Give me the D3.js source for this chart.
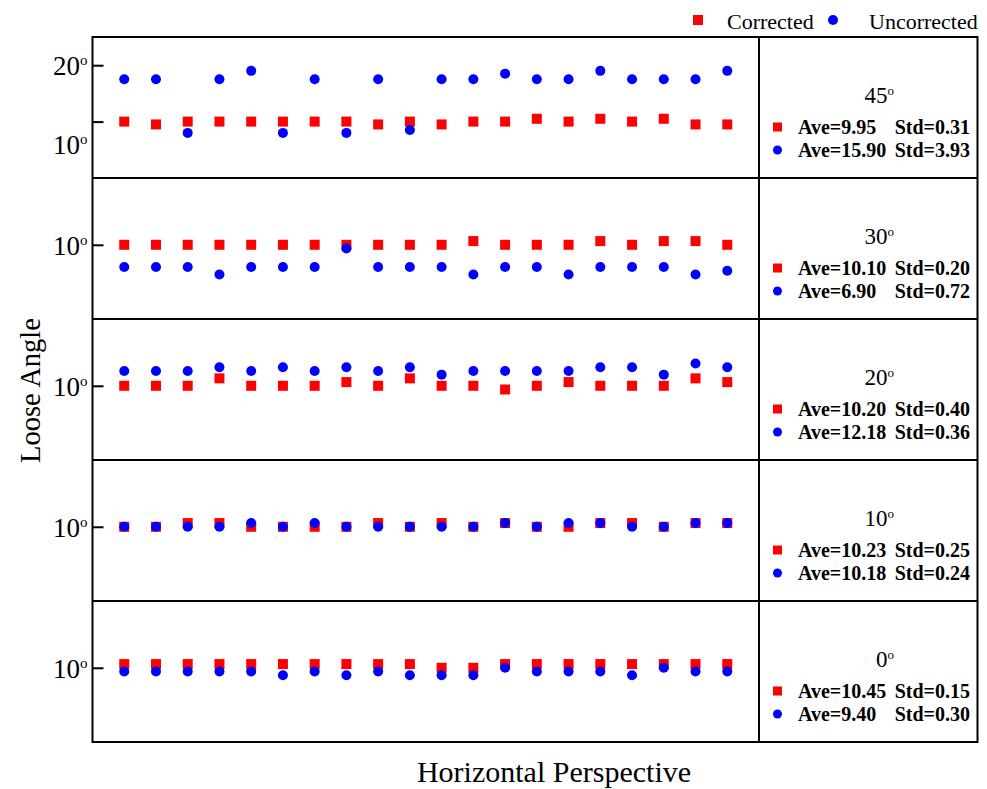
<!DOCTYPE html>
<html>
<head>
<meta charset="utf-8">
<script src="https://cdn.jsdelivr.net/npm/d3@7"></script>
<style>
  body { margin: 0; background: #fff; }
  text { font-family: "Liberation Serif", "Times New Roman", serif; fill: #000; }
</style>
</head>
<body>
<div id="chart"></div>
<script>
/* Loose angle vs horizontal perspective, corrected / uncorrected */

const angles = ["45", "30", "20", "10", "0"];

const corr45 = [10,9.5,10,10,10,10,10,10,9.5,10,9.5,10,10,10.5,10,10.5,10,10.5,9.5,9.5];
const unc45  = [17.5,17.5,8,17.5,19,8,17.5,8,17.5,8.5,17.5,17.5,18.5,17.5,17.5,19,17.5,17.5,17.5,19];
const corr30 = [10,10,10,10,10,10,10,10,10,10,10,10.5,10,10,10,10.5,10,10.5,10.5,10];
const unc30  = [7,7,7,6,7,7,7,9.5,7,7,7,6,7,7,6,7,7,7,6,6.5];
const corr20 = [10,10,10,11,10,10,10,10.5,10,11,10,10,9.5,10,10.5,10,10,10,11,10.5];
const unc20  = [12,12,12,12.5,12,12.5,12,12.5,12,12.5,11.5,12,12,12,12,12.5,12.5,11.5,13,12.5];
const corr10 = [10,10,10.5,10.5,10,10,10,10,10.5,10,10.5,10,10.5,10,10,10.5,10.5,10,10.5,10.5];
const unc10  = [10,10,10,10,10.5,10,10.5,10,10,10,10,10,10.5,10,10.5,10.5,10,10,10.5,10.5];
const corr0  = [10.5,10.5,10.5,10.5,10.5,10.5,10.5,10.5,10.5,10.5,10,10,10.5,10.5,10.5,10.5,10.5,10.5,10.5,10.5];
const unc0   = [9.5,9.5,9.5,9.5,9.5,9,9.5,9,9.5,9,9,9,10,9.5,9.5,9.5,9,10,9.5,9.5];

const corrected   = [corr45, corr30, corr20, corr10, corr0];
const uncorrected = [unc45, unc30, unc20, unc10, unc0];

const aveC = ["9.95", "10.10", "10.20", "10.23", "10.45"];
const stdC = ["0.31", "0.20", "0.40", "0.25", "0.15"];
const aveU = ["15.90", "6.90", "12.18", "10.18", "9.40"];
const stdU = ["3.93", "0.72", "0.36", "0.24", "0.30"];

const yDomains = [[0, 25], [0, 19], [0, 19], [0, 19], [0, 19]];
const yTicks   = [[10, 20], [10], [10], [10], [10]];

const width = 987, height = 789,
      margin = ({top: 37, left: 92.5, plotRight: 759, right: 977.5}),
      panelH = 141;

const svg = d3.select("#chart")
    .append("svg")
    .attr("width", width)
    .attr("height", height)
    .attr("viewBox", [0, 0, width, height]);

const x = d3.scaleLinear()
    .domain([0, 21])
    .range([margin.left, margin.plotRight]);

// superscript "o" used as the degree sign
const degree = (sel, fs, rise) => {
    sel.append("tspan")
        .attr("font-size", fs)
        .attr("dy", -rise)
        .text("o");
};

angles.forEach((a, i) => {
    const y0 = margin.top + i * panelH;
    const y = d3.scaleLinear()
        .domain(yDomains[i])
        .range([y0 + panelH, y0]);

    const g = svg.append("g");

    // left axis, ticks pointing in
    const ax = g.append("g")
        .attr("transform", `translate(${margin.left},0)`)
        .call(d3.axisLeft(y).tickValues(yTicks[i]).tickSize(-11).tickPadding(5).tickFormat(d => d));
    ax.select(".domain").remove();
    ax.selectAll("line").attr("stroke", "#000").attr("stroke-width", 2);
    ax.selectAll("text")
        .attr("font-size", 27)
        .attr("font-family", "Liberation Serif")
        .attr("fill", "#000")
        .attr("dy", d => (i === 0 && d === 10) ? "1.2em" : "0.35em")
        .each(function() { degree(d3.select(this), 15, 10); });

    // corrected
    g.selectAll(".sq")
        .data(corrected[i])
        .join("rect")
        .attr("class", "sq")
        .attr("x", (d, j) => x(j + 1) - 5)
        .attr("y", d => y(d) - 5)
        .attr("width", 10)
        .attr("height", 10)
        .attr("fill", "#ff0000");

    // uncorrected
    g.selectAll(".dot")
        .data(uncorrected[i])
        .join("circle")
        .attr("class", "dot")
        .attr("cx", (d, j) => x(j + 1))
        .attr("cy", d => y(d))
        .attr("r", 5)
        .attr("fill", "#0000ff");

    // right info box
    const t = g.append("text")
        .attr("x", 894)
        .attr("y", y0 + 66)
        .attr("text-anchor", "end")
        .attr("font-size", 23)
        .text(a);
    degree(t, 13, 8);

    const rows = [[aveC[i], stdC[i], "sq"], [aveU[i], stdU[i], "dot"]];
    rows.forEach((r, k) => {
        const ry = y0 + 90 + k * 23;
        if (r[2] === "sq") {
            g.append("rect").attr("x", 773).attr("y", ry - 4.5).attr("width", 9).attr("height", 9).attr("fill", "#ff0000");
        } else {
            g.append("circle").attr("cx", 777.5).attr("cy", ry).attr("r", 4.5).attr("fill", "#0000ff");
        }
        g.append("text")
            .attr("x", 798)
            .attr("y", ry + 7)
            .attr("font-size", 20)
            .attr("font-weight", "bold")
            .text("Ave=" + r[0]);
        g.append("text")
            .attr("x", 970)
            .attr("y", ry + 7)
            .attr("text-anchor", "end")
            .attr("font-size", 20)
            .attr("font-weight", "bold")
            .text("Std=" + r[1]);
    });

    // panel separators
    if (i > 0) {
        g.append("line")
            .attr("x1", margin.left).attr("x2", margin.right)
            .attr("y1", y0).attr("y2", y0)
            .attr("stroke", "#000").attr("stroke-width", 2);
    }
});

// outer frame and divider
svg.append("rect")
    .attr("x", margin.left).attr("y", margin.top)
    .attr("width", margin.right - margin.left).attr("height", panelH * 5)
    .attr("fill", "none").attr("stroke", "#000").attr("stroke-width", 2);
svg.append("line")
    .attr("x1", margin.plotRight).attr("x2", margin.plotRight)
    .attr("y1", margin.top).attr("y2", margin.top + panelH * 5)
    .attr("stroke", "#000").attr("stroke-width", 2);

// legend
svg.append("rect").attr("x", 693).attr("y", 15).attr("width", 10).attr("height", 10).attr("fill", "#ff0000");
svg.append("text").attr("x", 727).attr("y", 29).attr("font-size", 22).text("Corrected");
svg.append("circle").attr("cx", 833).attr("cy", 20).attr("r", 5).attr("fill", "#0000ff");
svg.append("text").attr("x", 869).attr("y", 29).attr("font-size", 22).text("Uncorrected");

// axis titles
svg.append("text")
    .attr("transform", `translate(40,${margin.top + panelH * 2.5 + 1}) rotate(-90)`)
    .attr("text-anchor", "middle")
    .attr("font-size", 28.5)
    .text("Loose Angle");
svg.append("text")
    .attr("x", 554)
    .attr("y", 782)
    .attr("text-anchor", "middle")
    .attr("font-size", 30)
    .text("Horizontal Perspective");
</script>
</body>
</html>
